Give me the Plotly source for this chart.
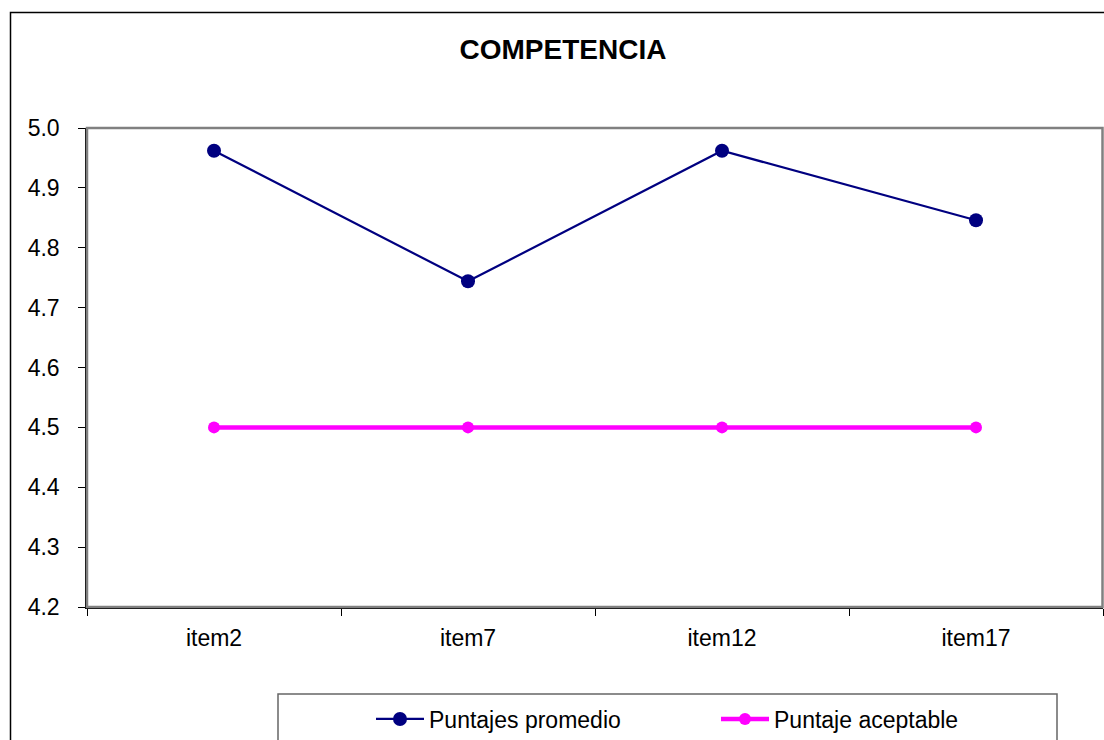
import plotly.graph_objects as go

# Competencia scores by item
items = ["item2", "item7", "item12", "item17"]
puntajes_promedio = [4.962, 4.744, 4.962, 4.846]
puntaje_aceptable = [4.5, 4.5, 4.5, 4.5]

W, H = 1104, 740
L, R, T, B = 87, 1, 128, 133
pw, ph = W - L - R, H - T - B


def px_x(x):
    return (x - L) / pw


def px_y(y):
    return (H - B - y) / ph


FONT = "Liberation Sans, Arial, sans-serif"

fig = go.Figure()
fig.add_trace(go.Scatter(
    x=items, y=puntajes_promedio, name="Puntajes promedio",
    mode="lines+markers",
    line=dict(color="#000080", width=2.2),
    marker=dict(color="#000080", size=14),
))
fig.add_trace(go.Scatter(
    x=items, y=puntaje_aceptable, name="Puntaje aceptable",
    mode="lines+markers",
    line=dict(color="#FF00FF", width=4.5),
    marker=dict(color="#FF00FF", size=12),
))

shapes = [
    # chart frame
    dict(type="rect", xref="paper", yref="paper",
         x0=px_x(10.5), x1=px_x(1200), y0=px_y(12.5), y1=px_y(800),
         line=dict(color="#000000", width=1.5), layer="below"),
    # plot area border (gray top/right)
    dict(type="rect", xref="paper", yref="paper",
         x0=0, x1=px_x(1102.5), y0=0, y1=1,
         line=dict(color="#808080", width=2.5), layer="above"),
    # legend box
    dict(type="rect", xref="paper", yref="paper",
         x0=px_x(278), x1=px_x(1057), y0=px_y(694), y1=px_y(800),
         line=dict(color="#666666", width=1.5)),
]

fig.update_layout(
    width=W, height=H,
    margin=dict(l=L, r=R, t=T, b=B),
    paper_bgcolor="white", plot_bgcolor="white",
    font=dict(family=FONT, color="black", size=23),
    title=dict(text="<b>COMPETENCIA</b>", font=dict(size=28, family=FONT),
               x=563 / W, xanchor="center", xref="container",
               y=1 - 49 / H, yanchor="middle", yref="container"),
    showlegend=True,
    legend=dict(orientation="h", xref="container", yref="container",
                x=371 / W, xanchor="left", y=1 - 719 / H, yanchor="middle",
                bgcolor="rgba(0,0,0,0)", borderwidth=0, itemwidth=48,
                entrywidth=282, font=dict(size=23, family=FONT)),
    shapes=shapes,
    xaxis=dict(type="category", tickson="boundaries", ticks="outside",
               ticklen=7, tickcolor="black", tickwidth=1,
               showline=True, linecolor="black", linewidth=1.5,
               showgrid=False, zeroline=False, range=[-0.5, 3.5],
               ticklabelstandoff=10),
    yaxis=dict(range=[4.2, 5.0], dtick=0.1, tick0=4.2, tickformat=".1f",
               ticks="outside", ticklen=7, tickcolor="black", tickwidth=1,
               showline=True, linecolor="black", linewidth=1.5,
               showgrid=False, zeroline=False, ticklabelstandoff=14),
)

fig.write_html("out.html")
